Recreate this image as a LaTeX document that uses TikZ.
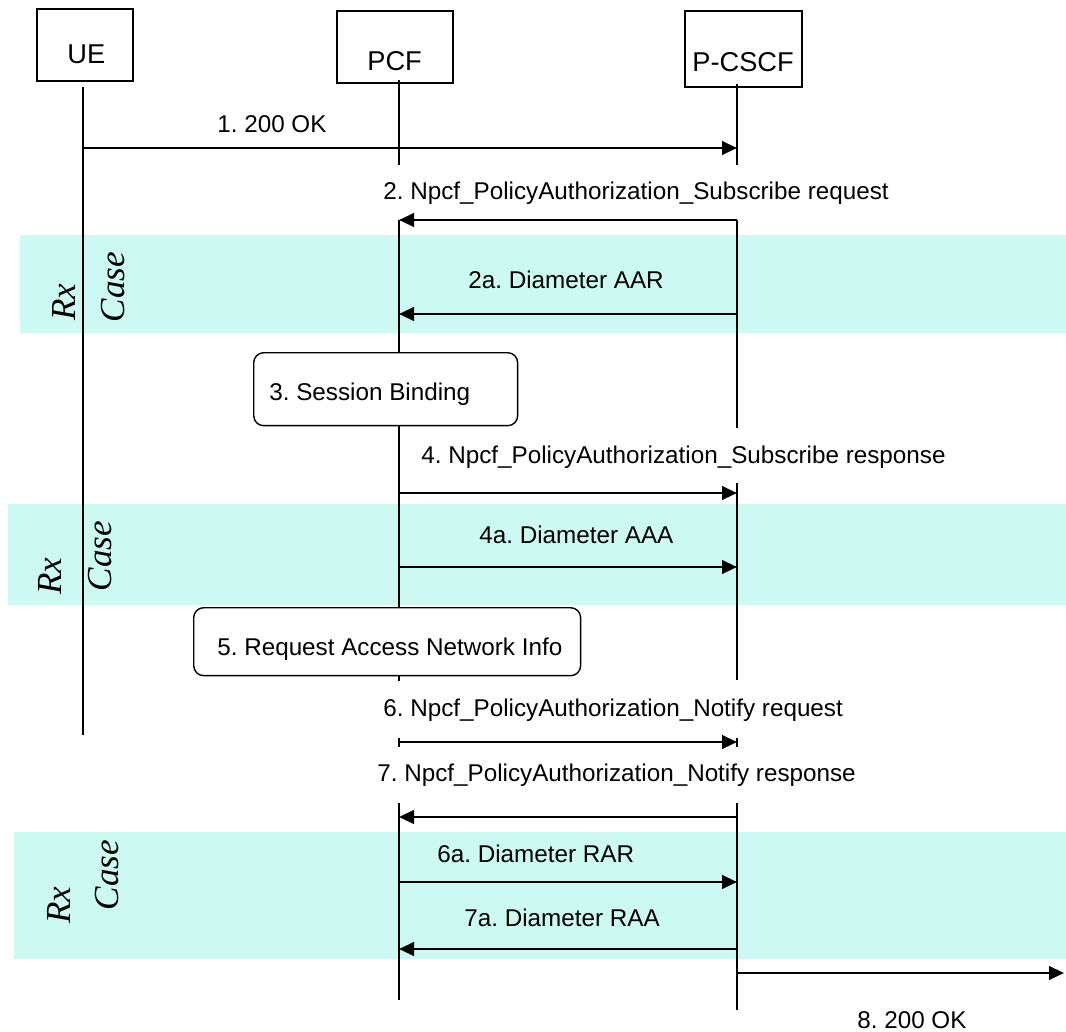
\documentclass[tikz,border=0pt]{standalone}
\usepackage{fontspec}
\setmainfont{Liberation Sans}
\newfontfamily\casefont{Liberation Serif}
\usetikzlibrary{arrows.meta}
\definecolor{rxband}{RGB}{204,250,242}
\frenchspacing

\begin{document}
\begin{tikzpicture}[
    x=0.02cm, y=-0.02cm,
    every node/.style={font=\fontsize{13.8}{16}\selectfont, inner sep=0pt},
    entity/.style={draw, line width=0.8pt},
    entitytext/.style={font=\fontsize{15.5}{18}\selectfont, anchor=base west},
    msgtext/.style={anchor=base west},
    lifeline/.style={line width=0.9pt},
    msg/.style={line width=1.5pt, -{Triangle[length=0.3cm, width=0.27cm]}},
    process/.style={draw, line width=0.8pt, rounded corners=0.2cm, anchor=north west},
    band/.style={fill=rxband, draw=none},
    casetext/.style={font=\casefont\itshape\fontsize{20}{24}\selectfont, rotate=90},
]
\useasboundingbox (0,0) rectangle (1066,1032);

% Rx case bands
\fill[band] (20,235) rectangle (1066,333);
\fill[band] (8,504) rectangle (1066,605);
\fill[band] (14,832) rectangle (1066,959);
\node[casetext] (rx1) at (64,302) {Rx};
\node[casetext] (case1) at (113,287) {Case};
\node[casetext] (rx2) at (50,576) {Rx};
\node[casetext] (case2) at (100,556) {Case};
\node[casetext] (rx3) at (59,905) {Rx};
\node[casetext] (case3) at (107,875) {Case};

% entities
\node[entity, minimum width=1.92cm, minimum height=1.44cm] (ue) at (85,45) {};
\node[entitytext] (uetxt) at (67,63) {UE};
\node[entity, minimum width=2.32cm, minimum height=1.44cm] (pcf) at (395,47) {};
\node[entitytext] (pcftxt) at (367,70) {PCF};
\node[entity, minimum width=2.34cm, minimum height=1.52cm] (cscf) at (743.5,49) {};
\node[entitytext] (cscftxt) at (692,71) {P-CSCF};

\coordinate (ueL) at (83,0);
\coordinate (pcfL) at (399,0);
\coordinate (cscfL) at (737,0);
\coordinate (outR) at (1064,973);

% lifelines
\draw[lifeline] (ueL |- 0,87) -- (ueL |- 0,735);
\foreach \a/\b in {80/165, 220/352, 425/607, 675/681, 738/747, 803/1000}
    \draw[lifeline] (pcfL |- 0,\a) -- (pcfL |- 0,\b);
\foreach \a/\b in {84/165, 220/428, 483/680, 738/747, 803/1010}
    \draw[lifeline] (cscfL |- 0,\a) -- (cscfL |- 0,\b);

% local procedures
\node[process, minimum width=5.28cm, minimum height=1.46cm, fill=white] (bind) at (253,352) {};
\node[msgtext] (bindtxt) at (269,400) {3. Session Binding};
\node[process, minimum width=7.74cm, minimum height=1.36cm, fill=white] (req) at (193,607) {};
\node[msgtext] (reqtxt) at (217,655) {5. Request Access Network Info};

% messages
\foreach \y/\from/\to in {148/ueL/cscfL, 220/cscfL/pcfL, 314/cscfL/pcfL,
        493/pcfL/cscfL, 567/pcfL/cscfL, 742/pcfL/cscfL, 817/cscfL/pcfL,
        882/pcfL/cscfL, 949/cscfL/pcfL}
    \draw[msg] (\from |- 0,\y) -- (\to |- 0,\y);
\draw[msg] (cscfL |- outR) -- (outR);

\node[msgtext] (m1) at (217,132) {1. 200 OK};
\node[msgtext] (m2) at (383,199) {2. Npcf\_PolicyAuthorization\_Subscribe request};
\node[msgtext] (m2a) at (468,288) {2a. Diameter AAR};
\node[msgtext] (m4) at (421,463) {4. Npcf\_PolicyAuthorization\_Subscribe response};
\node[msgtext] (m4a) at (479,543) {4a. Diameter AAA};
\node[msgtext] (m6) at (383,716) {6. Npcf\_PolicyAuthorization\_Notify request};
\node[msgtext] (m7) at (377,781) {7. Npcf\_PolicyAuthorization\_Notify response};
\node[msgtext] (m6a) at (437,862) {6a. Diameter RAR};
\node[msgtext] (m7a) at (464,926) {7a. Diameter RAA};
\node[msgtext] (m8) at (857,1028) {8. 200 OK};
\end{tikzpicture}
\end{document}
